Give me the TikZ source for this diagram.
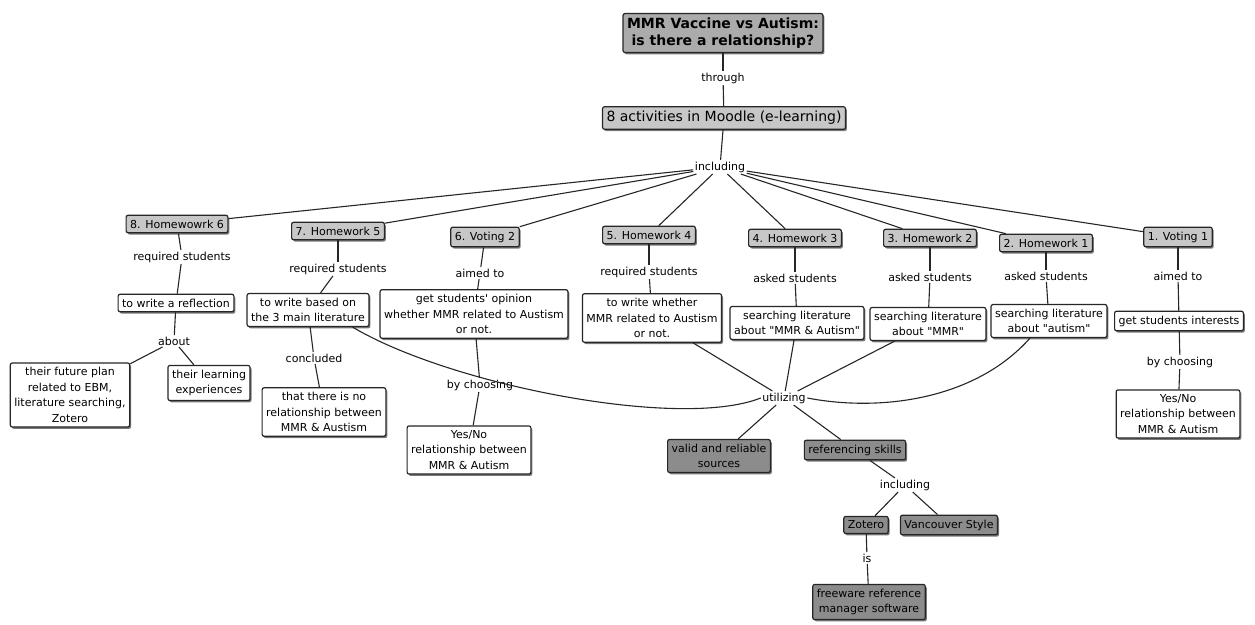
\documentclass[tikz,border=0pt]{standalone}
\usepackage{fontspec}
\setmainfont{DejaVu Sans}
\usetikzlibrary{shadows}

\tikzset{
  concept/.style={draw=black!85, line width=1.2pt, rounded corners=2pt, fill=white,
    align=center, inner xsep=4pt, inner ysep=4.5pt,
    font=\fontsize{11}{15.5}\selectfont,
    drop shadow={shadow xshift=1.5pt, shadow yshift=-1.8pt, fill=black!75, opacity=0.7}},
  greybox/.style={concept, fill=black!22},
  darkbox/.style={concept, fill=black!45},
  topbox/.style={concept, fill=black!33, font=\fontsize{14}{16.5}\selectfont\bfseries},
  linkword/.style={inner sep=1.5pt, font=\fontsize{11}{13}\selectfont},
  conn/.style={line width=1.1pt, black!85}
}

\begin{document}
\begin{tikzpicture}[x=1pt, y=-1pt]
  \useasboundingbox (0,0) rectangle (1255,624);

  % top of the map
  \node[topbox] (mmr) at (723,33) {MMR Vaccine vs Autism:\\is there a relationship?};
  \node[linkword] (through) at (723,78) {through};
  \node[greybox, font=\fontsize{14}{16}\selectfont] (moodle) at (724,118) {8 activities in Moodle (e-learning)};
  \node[linkword] (incl) at (720,167) {including};

  \draw[conn] (mmr) -- (through);
  \draw[conn] (through) -- (moodle);
  \draw[conn] (moodle) -- (incl);

  % the 8 activities
  \node[greybox] (hw6) at (177,224) {8. Homewowrk 6};
  \node[greybox] (hw5) at (338,231) {7. Homework 5};
  \node[greybox] (vot2) at (485,237) {6. Voting 2};
  \node[greybox] (hw4) at (649,235) {5. Homework 4};
  \node[greybox] (hw3) at (795,238) {4. Homework 3};
  \node[greybox] (hw2) at (930,238) {3. Homework 2};
  \node[greybox] (hw1) at (1046,243) {2. Homework 1};
  \node[greybox] (vot1) at (1178,237) {1. Voting 1};

  \foreach \n in {hw6, hw5, vot2, hw4, hw3, hw2, hw1, vot1}
    \draw[conn] (incl) -- (\n);

  % what each activity asked
  \node[linkword] (req6) at (182,257) {required students};
  \node[linkword] (req5) at (338,269) {required students};
  \node[linkword] (aim2) at (480,273) {aimed to};
  \node[linkword] (req4) at (649,272) {required students};
  \node[linkword] (ask3) at (795,278) {asked students};
  \node[linkword] (ask2) at (930,277) {asked students};
  \node[linkword] (ask1) at (1046,276) {asked students};
  \node[linkword] (aim1) at (1178,276) {aimed to};

  \node[concept] (refl) at (176,303) {to write a reflection};
  \node[concept] (basedon) at (308,310) {to write based on\\the 3 main literature};
  \node[concept] (opinion) at (474,314) {get students\textquotesingle{} opinion\\whether MMR related to Austism\\or not.};
  \node[concept] (whether) at (652,318) {to write whether\\MMR related to Austism\\or not.};
  \node[concept] (litmmraut) at (797,323) {searching literature\\about \textquotedbl MMR \& Autism\textquotedbl};
  \node[concept] (litmmr) at (928,324) {searching literature\\about \textquotedbl MMR\textquotedbl};
  \node[concept] (litaut) at (1049,321) {searching literature\\about \textquotedbl autism\textquotedbl};
  \node[concept] (interests) at (1179,321) {get students interests};

  \draw[conn] (hw6) -- (req6);   \draw[conn] (req6) -- (refl);
  \draw[conn] (hw5) -- (req5);   \draw[conn] (req5) -- (basedon);
  \draw[conn] (vot2) -- (aim2);  \draw[conn] (aim2) -- (opinion);
  \draw[conn] (hw4) -- (req4);   \draw[conn] (req4) -- (whether);
  \draw[conn] (hw3) -- (ask3);   \draw[conn] (ask3) -- (litmmraut);
  \draw[conn] (hw2) -- (ask2);   \draw[conn] (ask2) -- (litmmr);
  \draw[conn] (hw1) -- (ask1);   \draw[conn] (ask1) -- (litaut);
  \draw[conn] (vot1) -- (aim1);  \draw[conn] (aim1) -- (interests);

  % third row
  \node[linkword] (about) at (174,341) {about};
  \node[concept] (future) at (70,395) {their future plan\\related to EBM,\\literature searching,\\Zotero};
  \node[concept] (learning) at (209,383) {their learning\\experiences};
  \node[linkword] (concl) at (314,358) {concluded};
  \node[concept] (norel) at (324,412) {that there is no\\relationship between\\MMR \& Austism};
  \node[linkword] (choose2) at (480,385) {by choosing};
  \node[concept] (yesno2) at (469,450) {Yes/No\\relationship between\\MMR \& Autism};
  \node[linkword] (choose1) at (1180,362) {by choosing};
  \node[concept] (yesno1) at (1178,414) {Yes/No\\relationship between\\MMR \& Autism};

  \draw[conn] (refl) -- (about);
  \draw[conn] (about) -- (future);
  \draw[conn] (about) -- (learning);
  \draw[conn] (basedon) -- (concl);
  \draw[conn] (concl) -- (norel);
  \draw[conn] (opinion) -- (choose2);
  \draw[conn] (choose2) -- (yesno2);
  \draw[conn] (interests) -- (choose1);
  \draw[conn] (choose1) -- (yesno1);

  % utilizing
  \node[linkword] (util) at (784,398) {utilizing};
  \node[darkbox] (valid) at (719,456) {valid and reliable\\sources};
  \node[darkbox] (refskill) at (855,450) {referencing skills};
  \node[linkword] (incl2) at (905,485) {including};
  \node[darkbox] (zotero) at (866,525) {Zotero};
  \node[darkbox] (vanc) at (949,525) {Vancouver Style};
  \node[linkword] (is) at (867,558) {is};
  \node[darkbox] (freeware) at (869,602) {freeware reference\\manager software};

  \draw[conn] (basedon.-21) .. controls (450,385) and (680,430) .. (util.west);
  \draw[conn] (whether) -- (util);
  \draw[conn] (litmmraut) -- (util);
  \draw[conn] (litmmr) -- (util);
  \draw[conn] (litaut.-138) .. controls (975,400) and (880,412) .. (util.east);
  \draw[conn] (util) -- (valid);
  \draw[conn] (util) -- (refskill);
  \draw[conn] (refskill) -- (incl2);
  \draw[conn] (incl2) -- (zotero);
  \draw[conn] (incl2) -- (vanc);
  \draw[conn] (zotero) -- (is);
  \draw[conn] (is) -- (freeware);
\end{tikzpicture}
\end{document}
